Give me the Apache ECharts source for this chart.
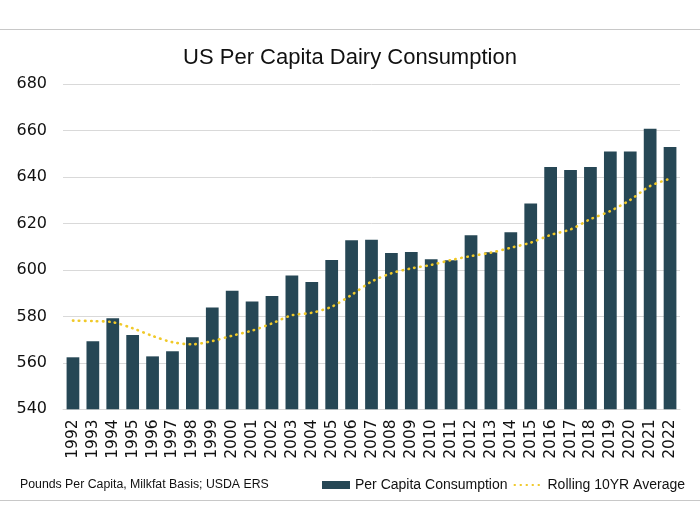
<!DOCTYPE html>
<html>
<head>
<meta charset="utf-8">
<script src="https://cdn.jsdelivr.net/npm/echarts@6/dist/echarts.min.js"></script>
<style>
html,body{margin:0;padding:0;background:#fff;}
#chart{width:700px;height:526px;}
</style>
</head>
<body>
<div id="chart"></div>
<script>
const years = ['1992','1993','1994','1995','1996','1997','1998','1999','2000','2001','2002','2003','2004','2005','2006','2007','2008','2009','2010','2011','2012','2013','2014','2015','2016','2017','2018','2019','2020','2021','2022'];
const perCapita = [562.4,569.3,579.2,572.0,562.8,565.0,571.0,583.8,591.1,586.4,588.8,597.6,594.8,604.3,612.8,613.0,607.3,607.8,604.6,604.2,615.0,607.6,616.3,628.6,644.4,643.1,644.4,651.0,651.0,660.9,653.0];
const rolling10yr = [578.2,578.0,577.5,574.9,571.6,568.9,568.0,569.4,571.7,573.9,577.0,580.5,581.6,584.2,589.3,595.0,598.6,600.7,602.2,604.3,606.0,607.5,609.6,611.8,615.1,617.5,621.9,625.4,630.2,636.2,639.3];
const yTicks = {min:540, max:680, interval:20};

const chart = echarts.init(document.getElementById('chart'), null, {renderer:'canvas'});
chart.setOption({
  animation:false,
  backgroundColor:'#ffffff',
  title:{
    text:'US Per Capita Dairy Consumption',
    left:'center', top:47, padding:0,
    textStyle:{fontFamily:'Liberation Sans', fontSize:22, fontWeight:'normal', color:'#111'}
  },
  grid:{left:63, right:20, top:84.3, bottom:116.7, containLabel:false},
  xAxis:{
    type:'category', data:years,
    axisLine:{show:true, lineStyle:{color:'#d9d9d9', width:1}},
    axisTick:{show:false},
    axisLabel:{rotate:90, margin:10, interval:0, fontFamily:'DejaVu Sans', fontSize:15.5, color:'#111'}
  },
  yAxis:{
    type:'value', min:yTicks.min, max:yTicks.max, interval:yTicks.interval,
    axisLine:{show:false}, axisTick:{show:false},
    splitLine:{lineStyle:{color:'#d9d9d9', width:1}},
    axisLabel:{margin:16, fontFamily:'DejaVu Sans', fontSize:16, color:'#111'}
  },
  legend:{
    right:10, top:473, itemGap:6, itemWidth:28, itemHeight:8,
    textStyle:{fontFamily:'Liberation Sans', fontSize:14, color:'#111'},
    data:[
      {name:'Per Capita Consumption', icon:'rect'},
      {name:'Rolling 10YR Average', itemStyle:{opacity:0}}
    ]
  },
  graphic:[
    {type:'line', shape:{x1:0,y1:29.5,x2:700,y2:29.5}, style:{stroke:'#c8c8c8', lineWidth:1.2}, silent:true},
    {type:'line', shape:{x1:0,y1:500.5,x2:700,y2:500.5}, style:{stroke:'#c8c8c8', lineWidth:1.2}, silent:true},
    {type:'text', left:20, top:479, style:{text:'Pounds Per Capita, Milkfat Basis; USDA ERS', font:'12.3px "Liberation Sans"', fill:'#111'}}
  ],
  series:[
    {
      name:'Per Capita Consumption', type:'bar', data:perCapita,
      barCategoryGap:'36%',
      itemStyle:{color:'#264755'}
    },
    {
      name:'Rolling 10YR Average', type:'line', data:rolling10yr,
      smooth:0.3, symbol:'none',
      itemStyle:{color:'#F0C929'},
      lineStyle:{color:'#F0C929', width:2.6, type:[0.5,5.5], cap:'round'}
    }
  ]
});
</script>
</body>
</html>
